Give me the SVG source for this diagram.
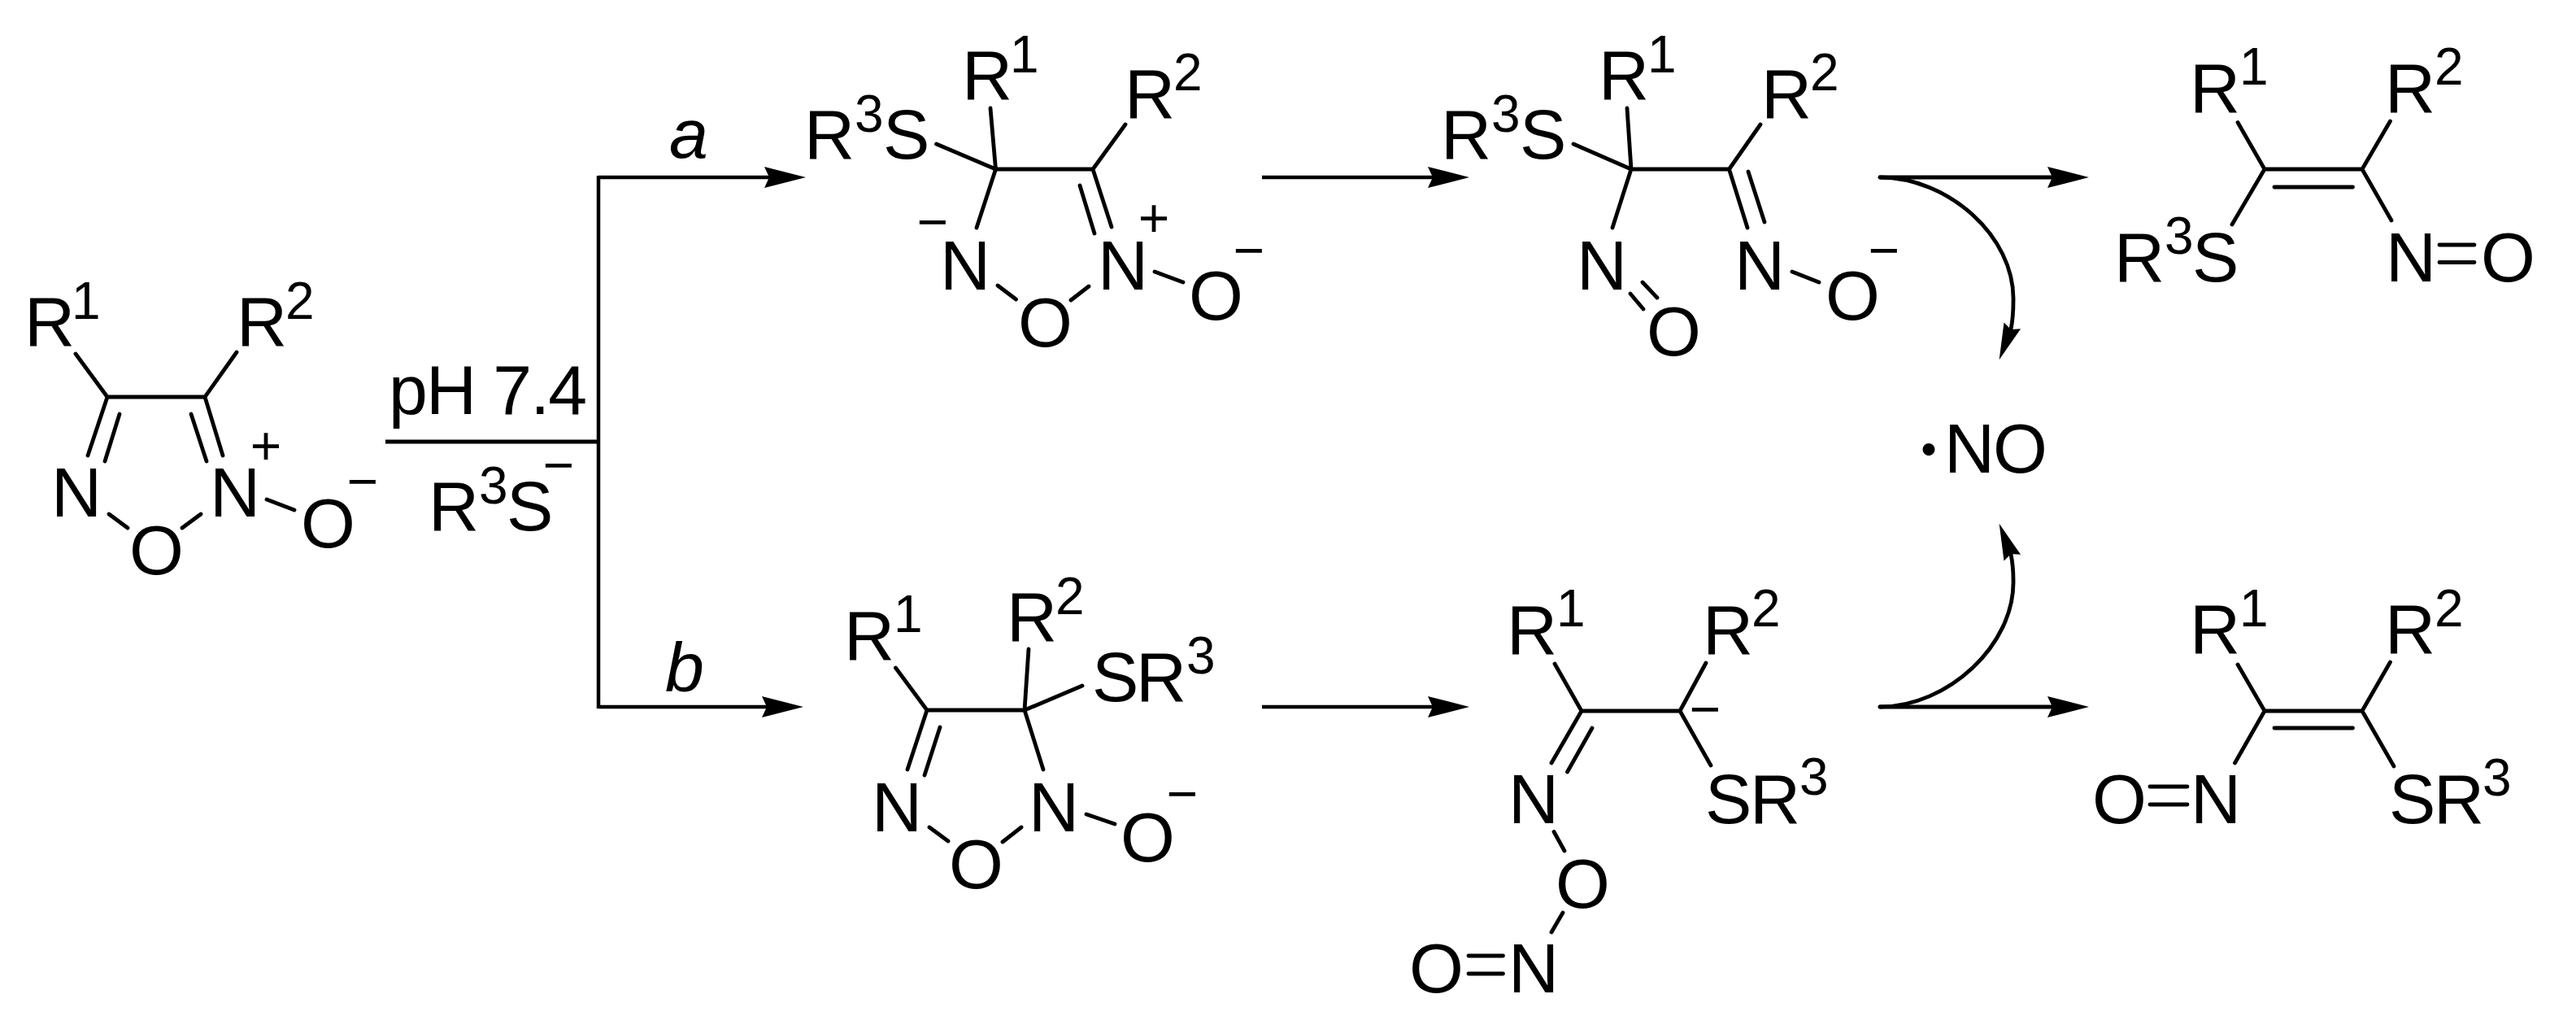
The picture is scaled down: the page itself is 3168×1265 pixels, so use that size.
<svg xmlns="http://www.w3.org/2000/svg" width="3168" height="1265" viewBox="0 0 3168 1265">
<style>
text{font-family:"Liberation Sans",Arial,sans-serif;font-size:86px;fill:#000}
.s{font-size:64px}
.c{font-size:66px;text-anchor:middle}
.i{font-style:italic}
.b{fill:none;stroke:#000;stroke-width:4.8;stroke-linecap:round;stroke-linejoin:round}
.w{fill:none;stroke:#000;stroke-width:5}
.k{fill:none;stroke:#000;stroke-width:4.5}
.d{font-family:Lato,sans-serif;font-size:100px;text-anchor:middle}
</style>
<defs>
<marker id="h" markerUnits="userSpaceOnUse" markerWidth="60" markerHeight="30" viewBox="0 -15 60 30" refX="6" refY="0" orient="auto"><path d="M0,-13L51,0L0,13L6,0Z"/></marker>
<marker id="md" markerUnits="userSpaceOnUse" markerWidth="50" markerHeight="30" viewBox="0 -15 50 30" refX="5" refY="0" orient="111"><path d="M0,-11L45,0L0,11L5,0Z"/></marker>
<marker id="mu" markerUnits="userSpaceOnUse" markerWidth="50" markerHeight="30" viewBox="0 -15 50 30" refX="5" refY="0" orient="249"><path d="M0,-11L45,0L0,11L5,0Z"/></marker>
</defs>
<g id="connectors">
<path class="w" d="M474,543H736"/>
<path class="k" d="M736,216V871"/>
<path class="k" d="M736,218H946" marker-end="url(#h)"/>
<path class="k" d="M736,869H943" marker-end="url(#h)"/>
<path class="k" d="M1552,218H1762" marker-end="url(#h)"/>
<path class="k" d="M1552,869H1762" marker-end="url(#h)"/>
<path class="b" d="M2312,218H2524" marker-end="url(#h)"/>
<path class="b" d="M2312,869H2524" marker-end="url(#h)"/>
<path class="b" d="M2312,218C2395,218 2478,290 2476,370C2476,383 2475,395 2473,405" marker-end="url(#md)"/>
<path class="b" d="M2312,869C2395,869 2478,793 2476,713C2476,700 2475,691 2473,681" marker-end="url(#mu)"/>
</g>
<g id="reagents">
<text x="478" y="509" textLength="244" lengthAdjust="spacing">pH 7.4</text>
<text x="527" y="652">R<tspan class="s" x="589" y="619">3</tspan><tspan x="623" y="652">S</tspan></text><text class="c" x="687" y="594">−</text>
<text class="i" x="823" y="194">a</text>
<text class="i" x="818" y="850">b</text>
</g>
<g id="mol1">
<path class="b" d="M93,435L132,488L252,488L291,433M132,488L108,560M147,509L129,567M252,488L274,560M235,509L254,567M134,632L157,649M247,632L224,649M328,614L362,627"/>
<text x="30" y="425">R<tspan class="s" x="88" y="392">1</tspan></text>
<text x="291" y="425">R<tspan class="s" x="351" y="392">2</tspan></text>
<text x="63" y="635">N</text><text x="258" y="635">N</text>
<text x="159" y="706">O</text><text x="370" y="673">O</text>
<text class="c" x="327" y="571">+</text><text class="c" x="446" y="614">−</text>
</g>
<g id="mol2a">
<path class="b" d="M1218,133L1224.500,208L1344,208L1384,153M1151.500,177L1224.500,208L1201,280M1344,208L1367,279M1328,228L1346,287M1227,351L1249.500,368M1339,352L1317,369M1420,334L1455,347"/>
<text x="989" y="195">R<tspan class="s" x="1051" y="162">3</tspan><tspan x="1086" y="195">S</tspan></text>
<text x="1183" y="122">R<tspan class="s" x="1242" y="89">1</tspan></text>
<text x="1383" y="145">R<tspan class="s" x="1443" y="111">2</tspan></text>
<text x="1156" y="356">N</text><text x="1350" y="356">N</text>
<text x="1252" y="426">O</text><text x="1462" y="393">O</text>
<text class="c" x="1147" y="295">−</text><text class="c" x="1419" y="291">+</text><text class="c" x="1536" y="330">−</text>
</g>
<g id="mol3a">
<path class="b" d="M2001,133L2006,208L2126.500,208L2165,153M1935,177L2006,208L1983,280M2126.500,208L2149,280M2150,211L2170,273M2005,361L2021,380M2020,347L2038,366M2204,334L2237,347"/>
<text x="1772" y="195">R<tspan class="s" x="1834" y="162">3</tspan><tspan x="1869" y="195">S</tspan></text>
<text x="1966" y="122">R<tspan class="s" x="2026" y="89">1</tspan></text>
<text x="2166" y="145">R<tspan class="s" x="2226" y="111">2</tspan></text>
<text x="1939" y="356">N</text><text x="2133" y="356">N</text>
<text x="2025" y="437">O</text><text x="2245" y="393">O</text>
<text class="c" x="2317" y="330">−</text>
</g>
<g id="mol4a">
<path class="b" d="M2752,150.500L2785,208L2905,208L2939.500,149M2745,276L2785,208M2905,208L2941,271M2797,230L2893.500,230M3000,301L3043,301M3000,322.500L3043,322.500"/>
<text x="2693" y="137.500">R<tspan class="s" x="2754" y="104">1</tspan></text>
<text x="2933" y="137.500">R<tspan class="s" x="2994" y="104">2</tspan></text>
<text x="2600" y="345.500">R<tspan class="s" x="2662" y="312">3</tspan><tspan x="2696" y="345.500">S</tspan></text>
<text x="2934" y="345.500">N</text><text x="3051" y="345.500">O</text>
</g>
<g id="no">
<text class="d" x="2372" y="582">·</text><text x="2391" y="580.500">N<tspan x="2451">O</tspan></text>
</g>
<g id="mol2b">
<path class="b" d="M1101.500,821L1140,873L1260,873L1265,798M1331,843L1260,873L1283,946M1140,873L1116,946M1156,894L1137,953M1143,1017L1166,1034M1256,1017L1233,1035M1336,1001L1371,1013"/>
<text x="1038" y="811">R<tspan class="s" x="1099" y="777">1</tspan></text>
<text x="1238" y="788">R<tspan class="s" x="1298" y="755">2</tspan></text>
<text x="1343" y="862">S<tspan x="1397">R</tspan><tspan class="s" x="1459" y="828">3</tspan></text>
<text x="1072" y="1022">N</text><text x="1265" y="1022">N</text>
<text x="1167" y="1092">O</text><text x="1378" y="1059">O</text>
<text class="c" x="1454" y="998">−</text>
</g>
<g id="mol3b">
<path class="b" d="M1912,816L1945,874L2066,874L2098,815M1945,874L1908,938M1958,895L1927.500,949M2066,874L2104,941M1911,1022.500L1924,1046M1922,1122L1908,1146M1806,1175L1848.500,1175M1806,1197L1848.500,1197"/>
<text x="1853" y="804">R<tspan class="s" x="1914" y="770">1</tspan></text>
<text x="2094" y="804">R<tspan class="s" x="2154" y="770">2</tspan></text>
<text x="2097" y="1012">S<tspan x="2152">R</tspan><tspan class="s" x="2213" y="977">3</tspan></text>
<text x="1855" y="1012">N</text><text x="1913" y="1116">O</text>
<text x="1855" y="1220">N</text><text x="1733" y="1220">O</text>
<text class="c" x="2097" y="894">−</text>
</g>
<g id="mol4b">
<path class="b" d="M2752,817L2785,874L2905,874L2939.500,814M2748.500,938L2785,874M2905,874L2944,942M2797,895L2893.500,895M2644,967L2690,967M2644,989L2690,989"/>
<text x="2693" y="803">R<tspan class="s" x="2754" y="770">1</tspan></text>
<text x="2933" y="803">R<tspan class="s" x="2994" y="770">2</tspan></text>
<text x="2573" y="1012">O</text><text x="2694" y="1012">N</text>
<text x="2938" y="1012">S<tspan x="2993">R</tspan><tspan class="s" x="3053" y="978">3</tspan></text>
</g>
</svg>
